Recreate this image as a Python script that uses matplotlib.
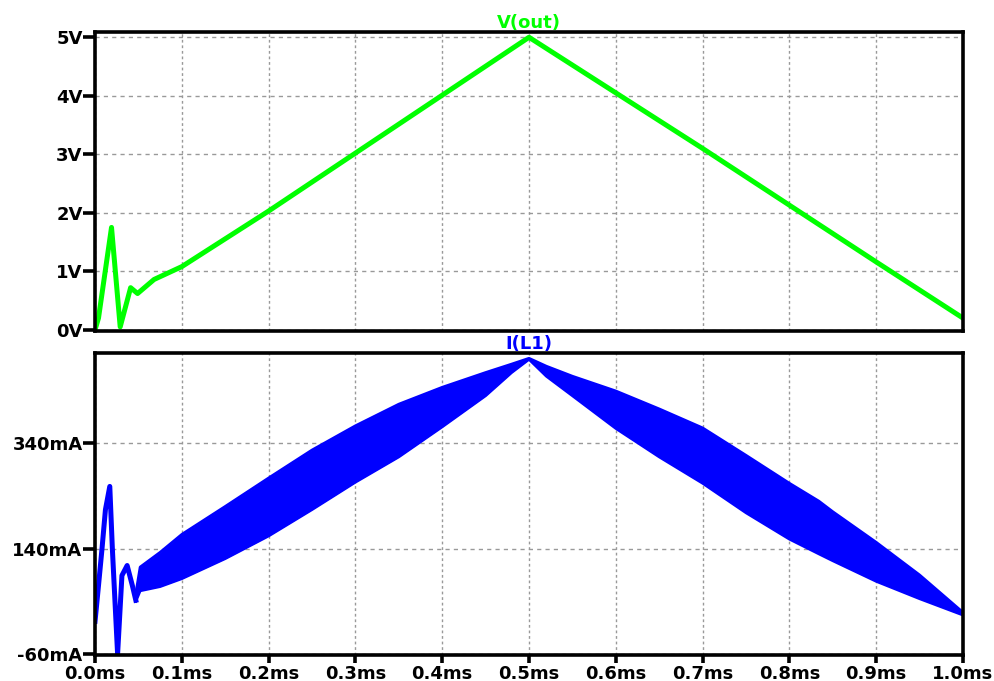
import matplotlib
matplotlib.use('Agg')
import matplotlib.pyplot as plt
from matplotlib.ticker import FuncFormatter

# V(out) trace
t_v = [0, 0.004, 0.019, 0.029, 0.041, 0.049, 0.068, 0.1, 0.2, 0.3, 0.4, 0.5,
       0.6, 0.7, 0.8, 0.9, 1.0]
v_out = [0, 0.2, 1.75, 0.05, 0.72, 0.62, 0.86, 1.08, 2.03, 3.02, 4.01, 5.0,
         4.05, 3.1, 2.13, 1.16, 0.2]

# I(L1) start-up transient (mA)
t_i = [0, 0.004, 0.008, 0.012, 0.017, 0.020, 0.026, 0.031, 0.037, 0.043, 0.047]
i_l1 = [2, 70, 139, 214, 258, 139, -60, 89, 108, 70, 42]

# I(L1) ripple envelope (mA)
t_band = [0.047, 0.052, 0.075, 0.1, 0.15, 0.2, 0.25, 0.3, 0.35, 0.4, 0.45,
          0.48, 0.5, 0.52, 0.55, 0.6, 0.65, 0.7, 0.75, 0.8, 0.834, 0.85,
          0.9, 0.95, 1.0]
i_upper = [55, 105, 133, 167, 220, 274, 327, 373, 414, 446, 474,
           490, 501, 486, 467, 439, 405, 369, 317, 264, 230, 210,
           152, 90, 19]
i_lower = [40, 60, 68, 83, 121, 164, 214, 266, 314, 371, 430,
           474, 499, 467, 430, 368, 314, 264, 208, 158, 130, 117,
           78, 45, 14]

x_ticks = [0.0, 0.1, 0.2, 0.3, 0.4, 0.5, 0.6, 0.7, 0.8, 0.9, 1.0]
v_ticks = [0, 1, 2, 3, 4, 5]
i_ticks = [-60, 140, 340]

plt.rcParams['font.family'] = ['DejaVu Sans']
plt.rcParams['font.weight'] = 'bold'

fig = plt.figure(figsize=(9.94, 6.81), dpi=100)
ax1 = fig.add_axes([0.0956, 0.514, 0.8732, 0.439])
ax2 = fig.add_axes([0.0956, 0.038, 0.8732, 0.4436])

green = '#00ff00'
blue = '#0000ff'

ax1.plot(t_v, v_out, color=green, lw=3.6, solid_joinstyle='round', zorder=3)
ax1.set_ylim(-0.02, 5.09)
ax1.set_yticks(v_ticks)
ax1.yaxis.set_major_formatter(FuncFormatter(lambda y, p: '%dV' % y))

ax2.plot(t_i, i_l1, color=blue, lw=3.6, solid_joinstyle='round', zorder=3)
ax2.fill_between(t_band, i_lower, i_upper, color=blue, lw=0, zorder=3)
ax2.plot(t_band, i_upper, color=blue, lw=2, zorder=3)
ax2.plot(t_band, i_lower, color=blue, lw=2, zorder=3)
ax2.set_ylim(-62, 511)
ax2.set_yticks(i_ticks)
ax2.yaxis.set_major_formatter(FuncFormatter(lambda y, p: '%dmA' % y))
ax2.xaxis.set_major_formatter(FuncFormatter(lambda x, p: '%.1fms' % x))

for ax in (ax1, ax2):
    ax.set_xlim(0, 1.0)
    ax.set_xticks(x_ticks)
    for s in ax.spines.values():
        s.set_linewidth(2.6)
        s.set_color('black')
        s.set_zorder(4)
    ax.grid(axis='x', color='#999999', linestyle=(0, (2, 2)), lw=1)
    ax.grid(axis='y', color='#999999', linestyle=(0, (3, 3)), lw=1)
    ax.set_axisbelow(True)
    ax.tick_params(axis='y', direction='out', length=9, width=2.6, pad=0,
                   labelsize=13)
    ax.tick_params(axis='x', direction='out', length=6, width=2.6, pad=1,
                   labelsize=13)

ax1.tick_params(axis='x', length=0, labelbottom=False)

ax1.set_title('V(out)', color=green, fontsize=13, fontweight='bold', pad=3)
ax2.set_title('I(L1)', color=blue, fontsize=13, fontweight='bold', pad=3)

fig.savefig('out.png', dpi=100)
